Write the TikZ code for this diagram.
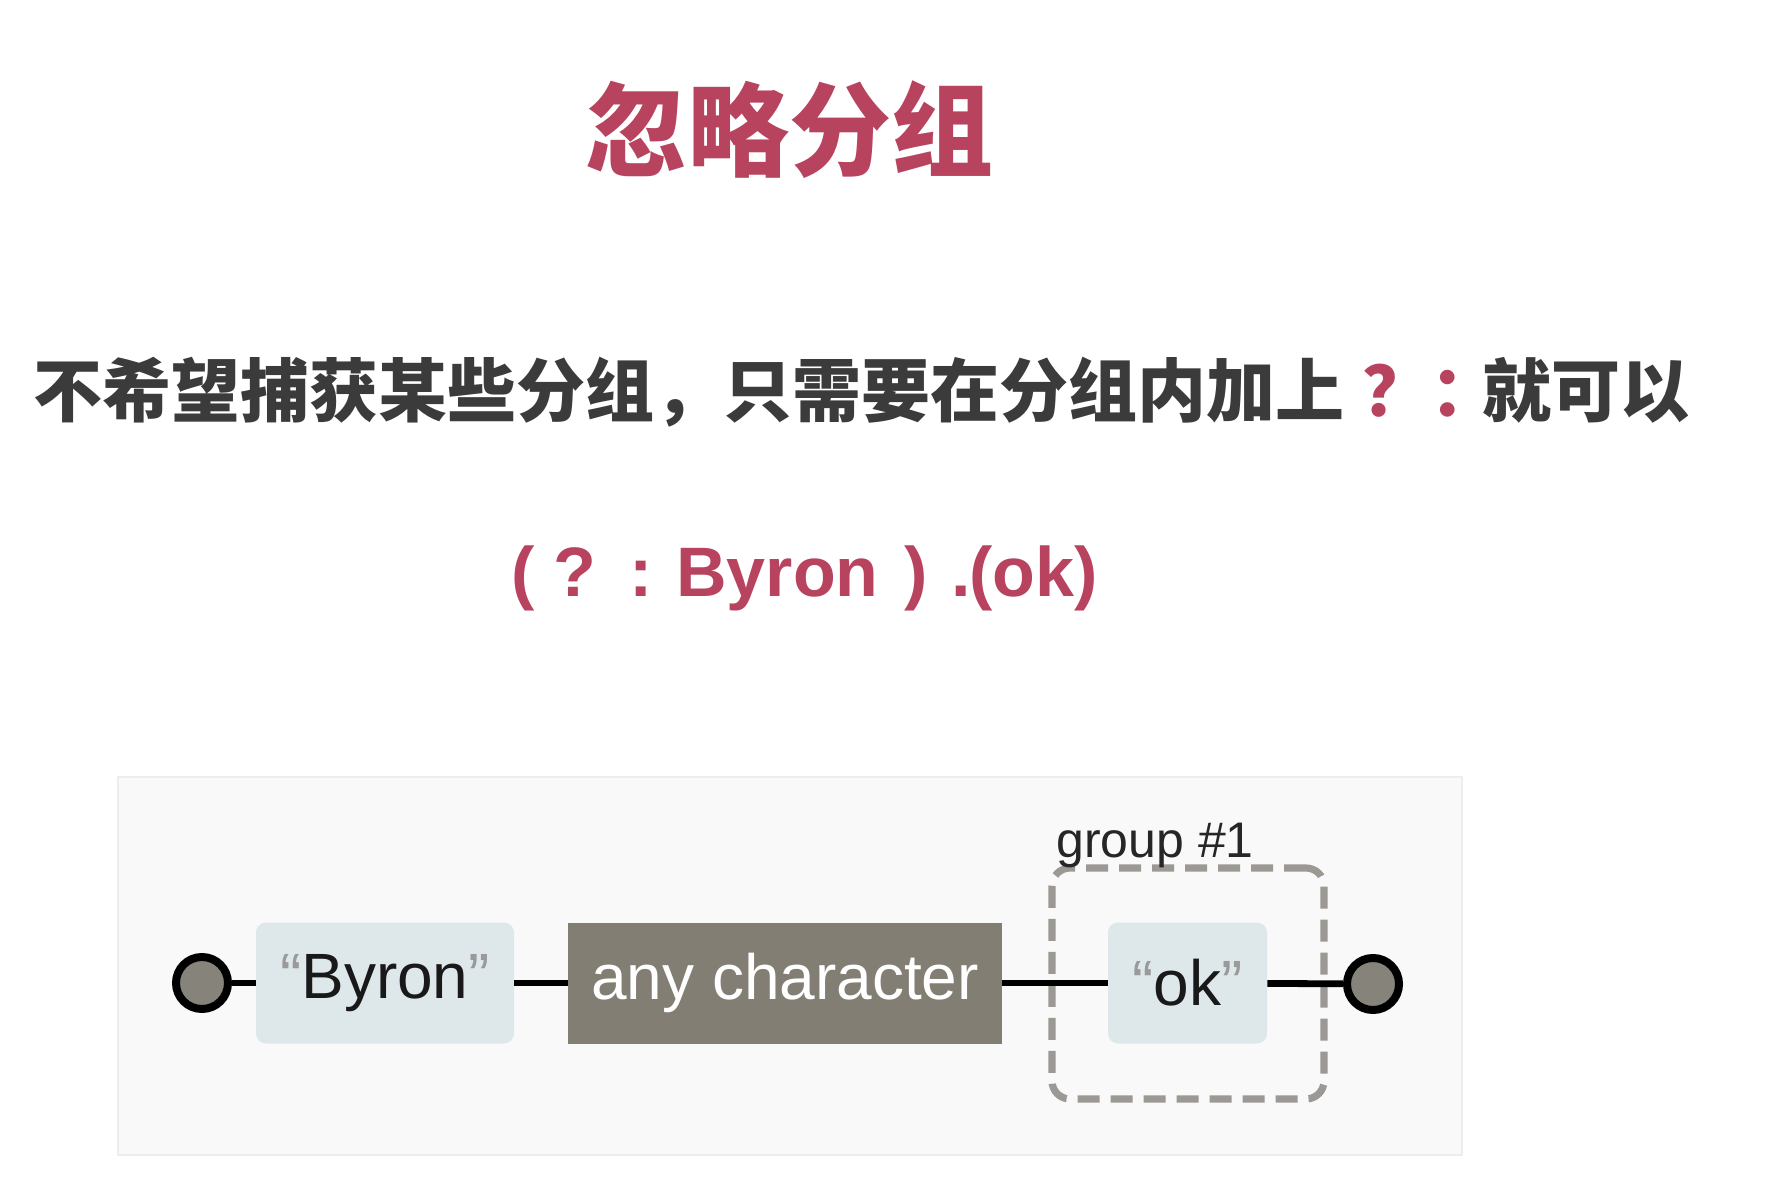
\documentclass[tikz,border=0pt]{standalone}
\usepackage{fontspec}
\setmainfont{Liberation Sans}
\newfontfamily\cjk{Noto Sans CJK SC}
\definecolor{crim}{HTML}{B8435F}
\definecolor{txt}{HTML}{3B3B3B}
\definecolor{panel}{HTML}{F9F9FA}
\definecolor{panelline}{HTML}{EDEDED}
\definecolor{litbox}{HTML}{DEE8EA}
\definecolor{darkbox}{HTML}{827E73}
\definecolor{dotfill}{HTML}{86847A}
\definecolor{dashc}{HTML}{9C9994}
\definecolor{quotec}{HTML}{9A9A9A}
\newcommand{\qq}[1]{\textcolor{quotec}{#1}}
\begin{document}
\begin{tikzpicture}[x=0.5pt,y=-0.5pt,
  endpt/.style={circle,draw=black,line width=4pt,fill=dotfill,minimum size=26pt,inner sep=0pt},
  litnode/.style={rectangle,rounded corners=5pt,fill=litbox,minimum height=60.5pt,inner sep=0pt,
     font=\fontsize{32}{32}\selectfont,text=black!90},
  darknode/.style={rectangle,fill=darkbox,minimum height=60.5pt,inner sep=0pt,
     font=\fontsize{32}{32}\selectfont,text=white},
  grpbox/.style={rectangle,rounded corners=9pt,draw=dashc,line width=3.6pt,dash pattern=on 11pt off 5.5pt,inner sep=0pt},
  conn/.style={draw=black,line width=3.4pt},
  regex/.style={anchor=base west,inner sep=0pt,text=crim,font=\fontsize{35}{35}\selectfont\bfseries}
]
\useasboundingbox (0,0) rectangle (1782,1202);
\fill[white] (0,0) rectangle (1782,1202);

% title
\node[inner sep=0pt,text=crim,font=\cjk\bfseries\fontsize{51}{51}\selectfont] (title) at (789,130) {忽略分组};

% subtitle
\node[inner sep=0pt,text=txt,font=\cjk\bfseries\fontsize{34.5}{34.5}\selectfont] (sub) at (861,392)
  {不希望捕获某些分组，只需要在分组内加上\kern9pt\textcolor{crim}{？\kern-0.5pt：}\kern-8.5pt就可以};

% regex line
\node[regex] (r1) at (511,597) {(};
\node[regex] (r2) at (553,597) {?};
\node[regex] (r3) at (629,597) {:};
\node[regex] (r4) at (676,597) {Byron};
\node[regex] (r5) at (904,597) {)};
\node[regex] (r6) at (951,597) {.};
\node[regex] (r7) at (969,597) {(ok)};

% diagram panel
\draw[panelline,fill=panel,line width=1pt] (118,777) rectangle (1462,1155);

\node[grpbox,minimum width=136pt,minimum height=115.5pt] (grp) at (1188,983.5) {};
\node[anchor=base west,inner sep=0pt,font=\fontsize{25}{25}\selectfont,text=black!85] (glabel) at (1056,857) {group \#1};

\node[endpt] (start) at (202,983) {};
\node[litnode,minimum width=129pt] (byron) at (385,983) {\qq{“}Byron\qq{”}};
\node[darknode,minimum width=217pt] (any) at (785,983) {any character};
\node[litnode,minimum width=79.5pt] (ok) at (1187.5,983) {\qq{“}ok\qq{”}};
\node[endpt] (end) at (1373,984) {};

\draw[conn] (start) -- (byron);
\draw[conn] (byron) -- (any);
\draw[conn] (any) -- (ok);
\draw[conn] (ok) -- (end);
\end{tikzpicture}
\end{document}
